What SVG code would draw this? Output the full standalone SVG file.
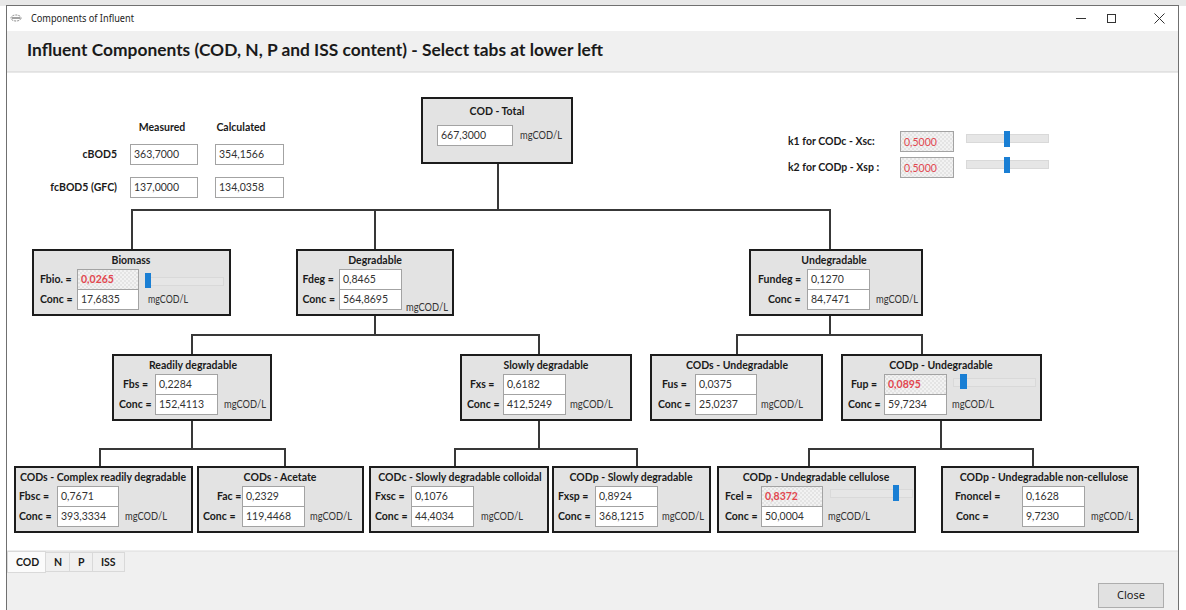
<svg xmlns="http://www.w3.org/2000/svg" width="1186" height="610" viewBox="0 0 1186 610">
<defs>
<pattern id="hatch" width="4" height="4" patternUnits="userSpaceOnUse">
<rect width="4" height="4" fill="#f2f2f2"/>
<rect width="2" height="2" fill="#e4e4e4"/>
<rect x="2" y="2" width="2" height="2" fill="#e4e4e4"/>
</pattern>
</defs>
<style>
.box{fill:#e3e3e3;stroke:#1c1c1c;stroke-width:2}
.inp{fill:#ffffff;stroke:#a3a3a3;stroke-width:1}
.inph{fill:url(#hatch);stroke:#a3a3a3;stroke-width:1}
.lbl{font-family:Lato,"Liberation Sans",sans-serif;font-size:10.5px;font-weight:700;fill:#1a1a1a}
.ttl{font-family:Lato,"Liberation Sans",sans-serif;font-size:10.5px;font-weight:700;fill:#1a1a1a;text-anchor:middle}
.val{font-family:Lato,"Liberation Sans",sans-serif;font-size:10.5px;fill:#333333}
.unit{font-family:Lato,"Liberation Sans",sans-serif;font-size:10.5px;fill:#333333}
.red{font-family:Lato,"Liberation Sans",sans-serif;font-size:10.5px;font-weight:700;fill:#e2474f}
.redn{font-family:Lato,"Liberation Sans",sans-serif;font-size:10.5px;font-weight:400;fill:#e2474f}
.conn{fill:none;stroke:#383838;stroke-width:2}
.track{fill:#e6e6e6;stroke:#d9d9d9;stroke-width:1}
.thumb{fill:#1a7fd4}
.tab{fill:#f0f0f0;stroke:#d9d9d9;stroke-width:1}
</style>

<!-- window chrome -->
<rect x="0" y="0" width="1186" height="610" fill="#ffffff"/>
<rect x="0" y="0" width="1186" height="6" fill="#e8e8e8"/>
<rect x="6.5" y="6" width="1172" height="25" fill="#ffffff"/>
<g id="titlebar">
<ellipse cx="16" cy="18" rx="5" ry="3" fill="none" stroke="#888888" stroke-width="1" stroke-dasharray="2 1"/>
<line x1="12" y1="18" x2="20" y2="18" stroke="#444444" stroke-width="1"/>
<text x="31" y="22" font-family="'Noto Sans','Open Sans',sans-serif" font-size="11" fill="#222222" textLength="103" lengthAdjust="spacingAndGlyphs">Components of Influent</text>
<line x1="1076" y1="18.5" x2="1086" y2="18.5" stroke="#333333" stroke-width="1"/>
<rect x="1107.5" y="14.5" width="8" height="8" fill="none" stroke="#333333" stroke-width="1"/>
<path d="M1154.5,13.5 L1164.5,23.5 M1164.5,13.5 L1154.5,23.5" stroke="#333333" stroke-width="1" fill="none"/>
</g>
<g id="header">
<rect x="7" y="31" width="1171" height="41" fill="#f0f0f0"/>
<line x1="7" y1="72" x2="1178" y2="72" stroke="#d2d2d2" stroke-width="1"/>
<text x="27" y="56" font-family="Lato,'Liberation Sans',sans-serif" font-size="17" font-weight="700" fill="#1a1a1a" textLength="576" lengthAdjust="spacingAndGlyphs">Influent Components (COD, N, P and ISS content) - Select tabs at lower left</text>
</g>

<!-- connectors -->
<g id="connectors">
<path class="conn" d="M498,163 V210"/>
<path class="conn" d="M132,250 V210 H830 V250"/>
<path class="conn" d="M375,210 V250"/>
<path class="conn" d="M375,315 V335"/>
<path class="conn" d="M192,355 V335 H539 V355"/>
<path class="conn" d="M830,315 V335"/>
<path class="conn" d="M737,355 V335 H922 V355"/>
<path class="conn" d="M192,420 V449"/>
<path class="conn" d="M100,467 V449 H285 V467"/>
<path class="conn" d="M539,420 V449"/>
<path class="conn" d="M455,467 V449 H637 V467"/>
<path class="conn" d="M941,420 V449"/>
<path class="conn" d="M809,467 V449 H1033 V467"/>
</g>

<!-- BOD section -->
<g id="bod">
<text class="ttl" x="162" y="131">Measured</text>
<text class="ttl" x="241" y="131">Calculated</text>
<text class="lbl" x="117" y="158" text-anchor="end">cBOD5</text>
<text class="lbl" x="117" y="191" text-anchor="end">fcBOD5 (GFC)</text>
<rect class="inp" x="130.5" y="144.5" width="67" height="20"/>
<text class="val" x="134" y="158">363,7000</text>
<rect class="inp" x="215.5" y="144.5" width="68" height="20"/>
<text class="val" x="219" y="158">354,1566</text>
<rect class="inp" x="130.5" y="177.5" width="67" height="20"/>
<text class="val" x="134" y="191">137,0000</text>
<rect class="inp" x="215.5" y="177.5" width="68" height="20"/>
<text class="val" x="219" y="191">134,0358</text>
</g>

<!-- k section -->
<g id="kparams">
<text class="lbl" x="788" y="145">k1 for CODc - Xsc:</text>
<text class="lbl" x="788" y="171">k2 for CODp - Xsp :</text>
<rect class="inph" x="900.5" y="131.5" width="53" height="20"/>
<text class="redn" x="904" y="145.5">0,5000</text>
<rect class="inph" x="900.5" y="157.5" width="53" height="20"/>
<text class="redn" x="904" y="171.5">0,5000</text>
<rect class="track" x="966.5" y="134.5" width="82" height="8"/>
<rect class="thumb" x="1004" y="131" width="6" height="16"/>
<rect class="track" x="966.5" y="160.5" width="82" height="8"/>
<rect class="thumb" x="1004" y="157" width="6" height="16"/>
</g>

<!-- COD total -->
<g id="cod-total">
<rect class="box" x="422" y="98" width="150" height="65"/>
<text class="ttl" x="497" y="115">COD - Total</text>
<rect class="inp" x="437.5" y="125.5" width="75" height="20"/>
<text class="val" x="441" y="139">667,3000</text>
<text class="unit" x="520" y="139" textLength="42" lengthAdjust="spacingAndGlyphs">mgCOD/L</text>
</g>

<!-- Row 1 -->
<g id="biomass">
<rect class="box" x="33" y="250" width="197" height="65"/>
<text class="ttl" x="131" y="264">Biomass</text>
<text class="lbl" x="40" y="283">Fbio. =</text>
<rect class="inph" x="77.5" y="269.5" width="61" height="20"/>
<text class="red" x="81" y="283">0,0265</text>
<rect class="track" x="145.5" y="277.5" width="78" height="8"/>
<rect class="thumb" x="145" y="273" width="6" height="15"/>
<text class="lbl" x="40" y="303">Conc =</text>
<rect class="inp" x="77.5" y="289.5" width="61" height="20"/>
<text class="val" x="81" y="303">17,6835</text>
<text class="unit" x="148" y="303" textLength="40" lengthAdjust="spacingAndGlyphs">mgCOD/L</text>
</g>

<g id="degradable">
<rect class="box" x="297" y="250" width="156" height="65"/>
<text class="ttl" x="375" y="264">Degradable</text>
<text class="lbl" x="302.5" y="283">Fdeg =</text>
<rect class="inp" x="339.5" y="269.5" width="62" height="20"/>
<text class="val" x="343" y="283">0,8465</text>
<text class="lbl" x="302.5" y="303">Conc =</text>
<rect class="inp" x="339.5" y="289.5" width="62" height="20"/>
<text class="val" x="343" y="303">564,8695</text>
<text class="unit" x="406" y="311" textLength="42" lengthAdjust="spacingAndGlyphs">mgCOD/L</text>
</g>

<g id="undegradable">
<rect class="box" x="750" y="250" width="172" height="65"/>
<text class="ttl" x="834" y="264">Undegradable</text>
<text class="lbl" x="758" y="283">Fundeg =</text>
<rect class="inp" x="807.5" y="269.5" width="62" height="20"/>
<text class="val" x="811" y="283">0,1270</text>
<text class="lbl" x="768" y="303">Conc =</text>
<rect class="inp" x="807.5" y="289.5" width="62" height="20"/>
<text class="val" x="811" y="303">84,7471</text>
<text class="unit" x="876" y="303" textLength="42" lengthAdjust="spacingAndGlyphs">mgCOD/L</text>
</g>

<!-- Row 2 -->
<g id="readily">
<rect class="box" x="113" y="355" width="158" height="65"/>
<text class="ttl" x="193" y="369">Readily degradable</text>
<text class="lbl" x="123" y="388">Fbs =</text>
<rect class="inp" x="155.5" y="374.5" width="62" height="20"/>
<text class="val" x="159" y="388">0,2284</text>
<text class="lbl" x="119" y="408">Conc =</text>
<rect class="inp" x="155.5" y="394.5" width="62" height="20"/>
<text class="val" x="159" y="408">152,4113</text>
<text class="unit" x="224" y="408" textLength="42" lengthAdjust="spacingAndGlyphs">mgCOD/L</text>
</g>

<g id="slowly">
<rect class="box" x="461" y="355" width="170" height="65"/>
<text class="ttl" x="546" y="369">Slowly degradable</text>
<text class="lbl" x="470" y="388">Fxs =</text>
<rect class="inp" x="503.5" y="374.5" width="62" height="20"/>
<text class="val" x="507" y="388">0,6182</text>
<text class="lbl" x="467" y="408">Conc =</text>
<rect class="inp" x="503.5" y="394.5" width="62" height="20"/>
<text class="val" x="507" y="408">412,5249</text>
<text class="unit" x="570" y="408" textLength="43" lengthAdjust="spacingAndGlyphs">mgCOD/L</text>
</g>

<g id="cods-undegradable">
<rect class="box" x="651" y="355" width="171" height="65"/>
<text class="ttl" x="737" y="369">CODs - Undegradable</text>
<text class="lbl" x="662" y="388">Fus =</text>
<rect class="inp" x="695.5" y="374.5" width="61" height="20"/>
<text class="val" x="699" y="388">0,0375</text>
<text class="lbl" x="658" y="408">Conc =</text>
<rect class="inp" x="695.5" y="394.5" width="61" height="20"/>
<text class="val" x="699" y="408">25,0237</text>
<text class="unit" x="761" y="408" textLength="42" lengthAdjust="spacingAndGlyphs">mgCOD/L</text>
</g>

<g id="codp-undegradable">
<rect class="box" x="842" y="355" width="199" height="65"/>
<text class="ttl" x="941" y="369">CODp - Undegradable</text>
<text class="lbl" x="851" y="388">Fup =</text>
<rect class="inph" x="884.5" y="374.5" width="62" height="20"/>
<text class="red" x="888" y="388">0,0895</text>
<rect class="track" x="953.5" y="378.5" width="82" height="8"/>
<rect class="thumb" x="960" y="374" width="7" height="15"/>
<text class="lbl" x="848" y="408">Conc =</text>
<rect class="inp" x="884.5" y="394.5" width="62" height="20"/>
<text class="val" x="888" y="408">59,7234</text>
<text class="unit" x="952" y="408" textLength="42" lengthAdjust="spacingAndGlyphs">mgCOD/L</text>
</g>

<!-- Row 3 -->
<g id="cods-complex">
<rect class="box" x="15" y="467" width="177" height="65"/>
<text class="ttl" x="103" y="481">CODs - Complex readily degradable</text>
<text class="lbl" x="19" y="500">Fbsc =</text>
<rect class="inp" x="57.5" y="486.5" width="61" height="20"/>
<text class="val" x="61" y="500">0,7671</text>
<text class="lbl" x="19" y="520">Conc =</text>
<rect class="inp" x="57.5" y="506.5" width="61" height="20"/>
<text class="val" x="61" y="520">393,3334</text>
<text class="unit" x="125" y="520" textLength="42" lengthAdjust="spacingAndGlyphs">mgCOD/L</text>
</g>

<g id="cods-acetate">
<rect class="box" x="198" y="467" width="165" height="65"/>
<text class="ttl" x="280" y="481">CODs - Acetate</text>
<text class="lbl" x="217" y="500">Fac =</text>
<rect class="inp" x="242.5" y="486.5" width="62" height="20"/>
<text class="val" x="246" y="500">0,2329</text>
<text class="lbl" x="203" y="520">Conc =</text>
<rect class="inp" x="242.5" y="506.5" width="62" height="20"/>
<text class="val" x="246" y="520">119,4468</text>
<text class="unit" x="310" y="520" textLength="42" lengthAdjust="spacingAndGlyphs">mgCOD/L</text>
</g>

<g id="codc-colloidal">
<rect class="box" x="370" y="467" width="178" height="65"/>
<text class="ttl" x="460" y="481">CODc - Slowly degradable colloidal</text>
<text class="lbl" x="375" y="500">Fxsc =</text>
<rect class="inp" x="411.5" y="486.5" width="62" height="20"/>
<text class="val" x="415" y="500">0,1076</text>
<text class="lbl" x="375" y="520">Conc =</text>
<rect class="inp" x="411.5" y="506.5" width="62" height="20"/>
<text class="val" x="415" y="520">44,4034</text>
<text class="unit" x="481" y="520" textLength="42" lengthAdjust="spacingAndGlyphs">mgCOD/L</text>
</g>

<g id="codp-slowly">
<rect class="box" x="553" y="467" width="157" height="65"/>
<text class="ttl" x="631" y="481">CODp - Slowly degradable</text>
<text class="lbl" x="558" y="500">Fxsp =</text>
<rect class="inp" x="595.5" y="486.5" width="62" height="20"/>
<text class="val" x="599" y="500">0,8924</text>
<text class="lbl" x="558" y="520">Conc =</text>
<rect class="inp" x="595.5" y="506.5" width="62" height="20"/>
<text class="val" x="599" y="520">368,1215</text>
<text class="unit" x="662" y="520" textLength="42" lengthAdjust="spacingAndGlyphs">mgCOD/L</text>
</g>

<g id="codp-cellulose">
<rect class="box" x="718" y="467" width="197" height="65"/>
<text class="ttl" x="816" y="481">CODp - Undegradable cellulose</text>
<text class="lbl" x="725" y="500">Fcel =</text>
<rect class="inph" x="761.5" y="486.5" width="61" height="20"/>
<text class="red" x="765" y="500">0,8372</text>
<rect class="track" x="830.5" y="489.5" width="82" height="8"/>
<rect class="thumb" x="893" y="485" width="6" height="16"/>
<text class="lbl" x="725" y="520">Conc =</text>
<rect class="inp" x="761.5" y="506.5" width="61" height="20"/>
<text class="val" x="765" y="520">50,0004</text>
<text class="unit" x="828" y="520" textLength="42" lengthAdjust="spacingAndGlyphs">mgCOD/L</text>
</g>

<g id="codp-noncellulose">
<rect class="box" x="942" y="467" width="196" height="65"/>
<text class="ttl" x="1044" y="481">CODp - Undegradable non-cellulose</text>
<text class="lbl" x="955" y="500">Fnoncel =</text>
<rect class="inp" x="1022.5" y="486.5" width="62" height="20"/>
<text class="val" x="1026" y="500">0,1628</text>
<text class="lbl" x="956" y="520">Conc =</text>
<rect class="inp" x="1022.5" y="506.5" width="62" height="20"/>
<text class="val" x="1026" y="520">9,7230</text>
<text class="unit" x="1091" y="520" textLength="42" lengthAdjust="spacingAndGlyphs">mgCOD/L</text>
</g>

<!-- bottom area -->
<g id="footer">
<rect x="7" y="551" width="1171" height="59" fill="#f0f0f0"/>
<line x1="7" y1="551" x2="1178" y2="551" stroke="#dcdcdc" stroke-width="1"/>
<rect class="tab" x="45.5" y="552.5" width="24" height="19"/>
<rect class="tab" x="69.5" y="552.5" width="23" height="19"/>
<rect class="tab" x="92.5" y="552.5" width="32" height="19"/>
<rect x="7.5" y="551.5" width="38" height="21" fill="#fbfbfb" stroke="#d9d9d9" stroke-width="1"/>
<text class="lbl" x="16" y="566">COD</text>
<text class="lbl" x="54" y="566">N</text>
<text class="lbl" x="78" y="566">P</text>
<text class="lbl" x="101" y="566">ISS</text>
<rect x="1098.5" y="583.5" width="65" height="24" fill="#e1e1e1" stroke="#adadad" stroke-width="1"/>
<text x="1131" y="599" font-family="'Noto Sans','Open Sans',sans-serif" font-size="11" fill="#222222" text-anchor="middle">Close</text>
</g>

<!-- window frame -->
<rect x="6.5" y="5.5" width="1172" height="606" fill="none" stroke="#707070" stroke-width="1"/>
</svg>
